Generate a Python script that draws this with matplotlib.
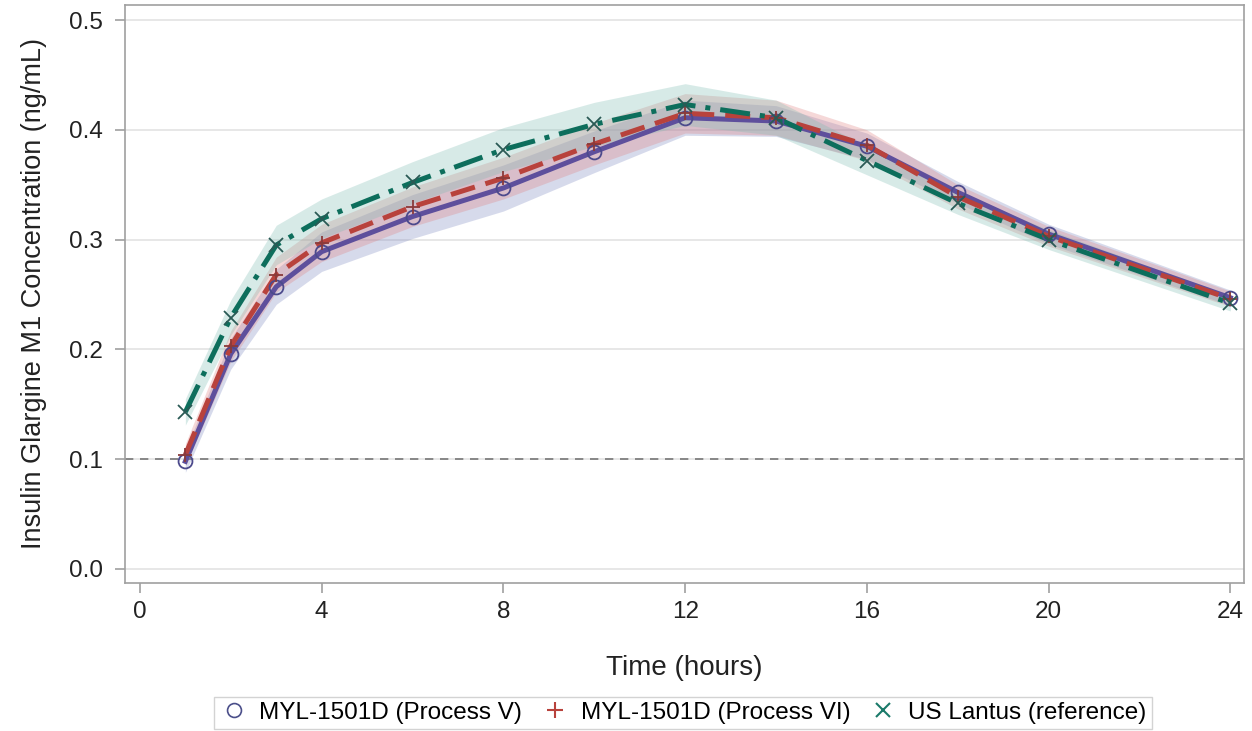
import matplotlib
matplotlib.use("Agg")
import matplotlib.pyplot as plt
from matplotlib.lines import Line2D

plt.rcParams['font.family'] = ['Liberation Sans', 'DejaVu Sans']

# --- data ---
hours = [1, 2, 3, 4, 6, 8, 10, 12, 14, 16, 18, 20, 24]

proc_v = [0.098, 0.196, 0.257, 0.289, 0.321, 0.347, 0.380, 0.411, 0.408, 0.385, 0.343, 0.305, 0.247]
proc_vi = [0.104, 0.203, 0.268, 0.297, 0.330, 0.356, 0.387, 0.415, 0.411, 0.386, 0.339, 0.303, 0.246]
lantus = [0.143, 0.229, 0.295, 0.319, 0.352, 0.382, 0.405, 0.423, 0.411, 0.372, 0.333, 0.300, 0.242]

# half width of the shaded confidence bands
band_v = [0.010, 0.014, 0.016, 0.018, 0.020, 0.021, 0.019, 0.016, 0.014, 0.012, 0.010, 0.009, 0.007]
band_vi = [0.010, 0.014, 0.016, 0.017, 0.018, 0.019, 0.019, 0.018, 0.016, 0.014, 0.011, 0.009, 0.007]
band_l = [0.012, 0.016, 0.018, 0.018, 0.019, 0.020, 0.020, 0.019, 0.016, 0.013, 0.010, 0.009, 0.007]

labels = ["MYL-1501D (Process V)", "MYL-1501D (Process VI)", "US Lantus (reference)"]
lloq = 0.1

fig = plt.figure(figsize=(12.52, 7.31), dpi=100)
ax = fig.add_axes([0.0998, 0.2025, 0.8938, 0.7907])

series = [
    (proc_v, band_v, '#5e4f9c', '#7a86c0', '-', 'o', '#4c4a8c'),
    (proc_vi, band_vi, '#b8423c', '#e08080', (0, (5, 2.2)), '+', '#8a3a3a'),
    (lantus, band_l, '#0d6e5c', '#7cbcb2', (0, (6, 2, 1, 2)), 'x', '#2a5a55'),
]

for vals, hw, col, fill, ls, mk, mcol in series:
    lo = [v - h for v, h in zip(vals, hw)]
    hi = [v + h for v, h in zip(vals, hw)]
    ax.fill_between(hours, lo, hi, color=fill, alpha=0.3, linewidth=0, zorder=1)

for vals, hw, col, fill, ls, mk, mcol in series:
    ax.plot(hours, vals, color=col, linestyle=ls, linewidth=3.6, zorder=3)
    ax.plot(hours, vals, linestyle='none', marker=mk, markersize=10,
            markerfacecolor='none', markeredgecolor=mcol, markeredgewidth=1.3, zorder=4)

ax.axhline(lloq, color='#777777', linestyle=(0, (5, 4)), linewidth=1.2, zorder=2)

ax.set_xlim(-0.33, 24.3)
ax.set_ylim(-0.0128, 0.5137)
ax.set_xticks([0, 4, 8, 12, 16, 20, 24])
ax.set_yticks([0.0, 0.1, 0.2, 0.3, 0.4, 0.5])
ax.set_yticklabels(["0.0", "0.1", "0.2", "0.3", "0.4", "0.5"])
ax.grid(axis='y', color='#e3e3e3', linewidth=1.2, zorder=0)
ax.set_axisbelow(True)

for sp in ax.spines.values():
    sp.set_color('#a0a0a0')
    sp.set_linewidth(1.2)
ax.tick_params(axis='both', colors='#a0a0a0', length=7, width=1.2, labelsize=17.5,
               labelcolor='#222222')
ax.tick_params(axis='x', pad=6)
ax.tick_params(axis='y', pad=9)

ax.set_xlabel("Time (hours)", fontsize=20, color='#222222', labelpad=23)
ax.set_ylabel("Insulin Glargine M1 Concentration (ng/mL)", fontsize=19.5, color='#222222', labelpad=16)

handles = [
    Line2D([], [], linestyle='none', marker='o', markersize=10, markerfacecolor='none',
           markeredgecolor='#4b4f8a', markeredgewidth=1.2),
    Line2D([], [], linestyle='none', marker='+', markersize=12,
           markeredgecolor='#b8423c', markeredgewidth=1.5),
    Line2D([], [], linestyle='none', marker='x', markersize=10,
           markeredgecolor='#1a7a6a', markeredgewidth=1.5),
]
leg = fig.legend(handles, labels, loc='lower center', bbox_to_anchor=(0.5455, 0.0),
                 ncol=3, frameon=True, fontsize=17.5, handletextpad=0.45,
                 columnspacing=0.75, borderpad=0.2, borderaxespad=0.1,
                 handlelength=1.2, fancybox=False)
leg.get_frame().set_edgecolor('#c8c8c8')
leg.get_frame().set_linewidth(1.0)

fig.savefig("out.png", dpi=100)
